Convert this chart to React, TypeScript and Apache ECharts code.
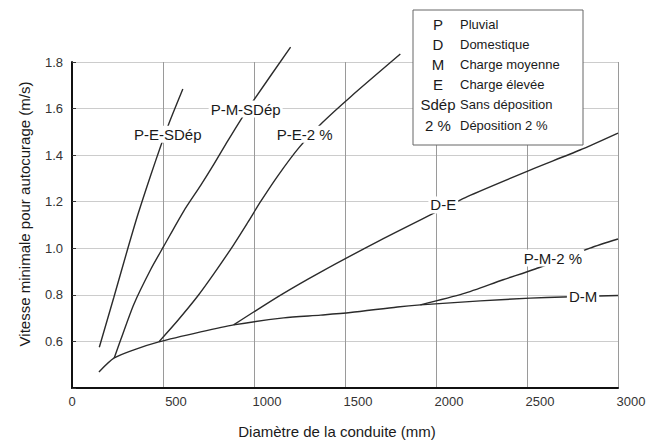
import React, { useEffect, useRef } from "react";
import * as echarts from "echarts";

// Courbes (diamètre mm, vitesse m/s)
const baseDM: number[][] = [
  [148, 0.469], [232, 0.529], [340, 0.564], [477, 0.598], [707, 0.641], [888, 0.671],
  [1163, 0.701], [1366, 0.713], [1530, 0.724], [1788, 0.748], [1914, 0.757], [2243, 0.774],
  [2517, 0.786], [2698, 0.791], [3000, 0.797],
];
const peSdep: number[][] = [
  [150, 0.575], [230, 0.79], [307, 1.0], [362, 1.145], [433, 1.315], [488, 1.44],
  [532, 1.535], [609, 1.684],
];
const pmSdep: number[][] = [
  [232, 0.529], [269, 0.61], [340, 0.76], [433, 0.91], [505, 1.01], [614, 1.16],
  [707, 1.27], [779, 1.36], [855, 1.46], [916, 1.538], [993, 1.63], [1201, 1.864],
];
const pe2: number[][] = [
  [477, 0.598], [581, 0.69], [691, 0.795], [779, 0.89], [888, 1.015], [965, 1.11],
  [1036, 1.2], [1130, 1.31], [1245, 1.43], [1376, 1.54], [1530, 1.65], [1804, 1.834],
];
const de: number[][] = [
  [888, 0.671], [1146, 0.799], [1366, 0.898], [1695, 1.035], [1969, 1.143], [2172, 1.222],
  [2517, 1.336], [2791, 1.422], [3000, 1.495],
];
const pm2: number[][] = [
  [1914, 0.757], [2150, 0.805], [2369, 0.865], [2545, 0.911], [2846, 1.001], [3000, 1.04],
];

const curveNames = ["D-M", "P-E-SDép", "P-M-SDép", "P-E-2 %", "D-E", "P-M-2 %"];
const curveData = [baseDM, peSdep, pmSdep, pe2, de, pm2];
const labelCoords: number[][] = [
  [2808, 0.791], [526, 1.49], [954, 1.598], [1278, 1.49], [2040, 1.186], [2643, 0.958],
];

const legendKeys = ["P", "D", "M", "E", "Sdép", "2 %"];
const legendTexts = ["Pluvial", "Domestique", "Charge moyenne", "Charge élevée", "Sans déposition", "Déposition 2 %"];

const yLabels = [0.4, 0.6, 0.8, 1.0, 1.2, 1.4, 1.6, 1.8];

const FONT = "Liberation Sans, Arial, sans-serif";

export default function App() {
  const ref = useRef<HTMLDivElement>(null);
  useEffect(() => {
    if (!ref.current) return;
    const chart = echarts.init(ref.current, undefined, { renderer: "svg" });
    const series: any[] = curveData.map((d, i) => ({
      name: curveNames[i],
      type: "line",
      data: d,
      smooth: 0.25,
      clip: false,
      showSymbol: false,
      symbol: "none",
      lineStyle: { color: "#2b2b2b", width: 1.4 },
      z: 3,
      markPoint: {
        symbol: "circle",
        symbolSize: 1,
        itemStyle: { color: "rgba(0,0,0,0)" },
        z: 5,
        data: [{ coord: labelCoords[i], value: curveNames[i] }],
        label: {
          show: true,
          position: "inside",
          formatter: curveNames[i],
          color: "#1a1a1a",
          fontSize: 15,
          fontFamily: FONT,
          backgroundColor: "#ffffff",
          padding: [1, 2],
        },
      },
    }));

    const legendGraphics: any[] = [
      {
        type: "rect",
        shape: { x: 413, y: 10, width: 170, height: 135 },
        style: { fill: "#ffffff", stroke: "#666666", lineWidth: 1 },
        z: 10,
      },
    ];
    legendKeys.forEach((k, i) => {
      const y = 24 + i * 20.2;
      legendGraphics.push({
        type: "text",
        x: 438,
        y,
        style: { text: k, fill: "#1a1a1a", font: `15px ${FONT}`, align: "center", verticalAlign: "middle" },
        z: 11,
      });
      legendGraphics.push({
        type: "text",
        x: 460,
        y,
        style: { text: legendTexts[i], fill: "#1a1a1a", font: `13px ${FONT}`, align: "left", verticalAlign: "middle" },
        z: 11,
      });
    });

    chart.setOption({
      animation: false,
      backgroundColor: "#ffffff",
      textStyle: { fontFamily: FONT },
      grid: { left: 72, right: 44, top: 62, bottom: 59, containLabel: false },
      xAxis: {
        type: "value",
        min: 0,
        max: 3000,
        interval: 500,
        name: "Diamètre de la conduite (mm)",
        nameLocation: "middle",
        nameGap: 36,
        nameTextStyle: { fontSize: 15, color: "#1a1a1a", fontFamily: FONT, padding: [0, 16, 0, 0] },
        axisLine: { show: true, lineStyle: { color: "#111", width: 2 } },
        axisTick: { show: false },
        axisLabel: {
          fontSize: 13,
          color: "#333",
          margin: 7,
          formatter: (v: number) => (v === 0 ? `{z|0}` : `{s|${v}}`),
          rich: { z: { fontSize: 13, color: "#333" }, s: { fontSize: 13, color: "#333", padding: [0, 0, 0, 26] } },
        },
        splitLine: { show: true, lineStyle: { color: "#9a9a9a", width: 1 } },
      },
      yAxis: {
        type: "value",
        min: 0.4,
        max: 1.8,
        interval: 0.2,
        name: "Vitesse minimale pour autocurage (m/s)",
        nameLocation: "middle",
        nameGap: 40,
        nameTextStyle: { fontSize: 15, color: "#1a1a1a", fontFamily: FONT, padding: [0, 0, 0, 22] },
        axisLine: { show: true, lineStyle: { color: "#111", width: 2 } },
        axisTick: { show: true, inside: true, length: 4, lineStyle: { color: "#333" } },
        axisLabel: {
          fontSize: 13,
          color: "#333",
          margin: 9,
          formatter: (v: number) => {
            const r = Math.round(v * 10) / 10;
            return r === yLabels[0] ? "" : r.toFixed(1);
          },
        },
        splitLine: { show: true, lineStyle: { color: "#cccccc", width: 1 } },
      },
      series,
      graphic: legendGraphics,
    });
    return () => chart.dispose();
  }, []);
  return <div ref={ref} style={{ position: "fixed", left: 0, top: 0, width: 662, height: 447 }} />;
}
